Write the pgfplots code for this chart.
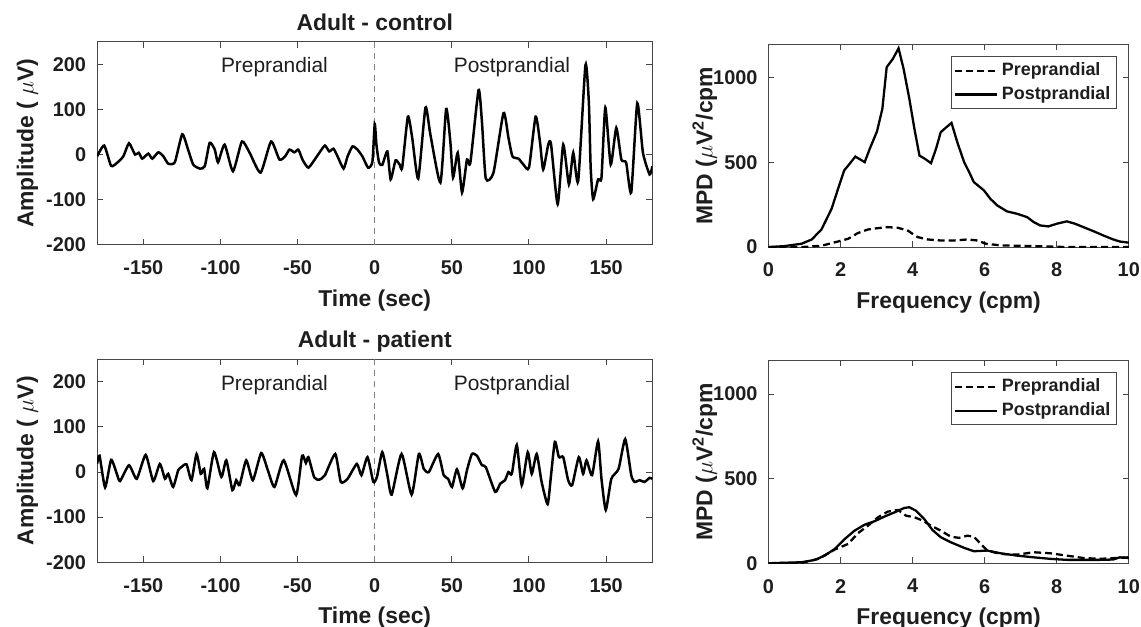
\documentclass[border=0pt]{standalone}
\usepackage{fontspec}
\setmainfont{Liberation Sans}
\usepackage{pgfplots}
\pgfplotsset{compat=1.18}
\definecolor{axgray}{RGB}{70,70,70}
\definecolor{txt}{RGB}{30,30,30}
\begin{document}
\pgfplotsset{
  common/.style={
    scale only axis,
    anchor=south west,
    axis line style={axgray, line width=0.5pt},
    tick style={axgray, line width=0.5pt},
    tick align=inside,
    major tick length=3pt,
    ticklabel style={font=\fontsize{10}{11}\selectfont\bfseries, text=txt},
    xticklabel shift=4.5pt,
    yticklabel shift=2pt,
    /pgf/number format/assume math mode=true,
    /pgf/number format/1000 sep={},
    label style={font=\fontsize{11.5}{12}\selectfont\bfseries, text=txt},
    xlabel style={at={(axis description cs:0.5,0)}, anchor=base, yshift=-30.8pt},
    title style={font=\fontsize{11.5}{12}\selectfont\bfseries, text=txt,
      at={(axis description cs:0.5,1)}, anchor=base, yshift=-0.1pt},
  },
  ts/.style={common,
    width=279pt, height=102pt,
    xmin=-180, xmax=180, ymin=-200, ymax=250,
    xtick={-150,-100,-50,0,50,100,150},
    ytick={-200,-100,0,100,200},
    xlabel={Time (sec)},
    ylabel={Amplitude ( $\mu$V)},
    ylabel style={at={(axis description cs:0,0.5)}, anchor=center, yshift=35pt},
  },
  sp/.style={common,
    width=181pt, height=102pt,
    xmin=0, xmax=10, ymin=0, ymax=1200,
    xtick={0,2,4,6,8,10},
    ytick={0,500,1000},
    xlabel={Frequency (cpm)},
    ylabel={MPD ($\mu$V\textsuperscript{2}/cpm},
    ylabel style={at={(axis description cs:0,0.5)}, anchor=center, yshift=32pt},
    legend style={at={(rel axis cs:0.967,0.94)}, anchor=north east,
      font=\fontsize{9}{10}\selectfont\bfseries, text=txt, draw=axgray, line width=0.5pt,
      inner sep=1pt, row sep=0pt, cells={anchor=west}},
    legend image code/.code={\draw[#1] (0pt,0pt) -- (21pt,0pt);},
  },
  sig/.style={black, line width=1.25pt, smooth, tension=0.35},
  pre/.style={black, line width=1.15pt, dash pattern=on 3.5pt off 2pt},
  post/.style={black, line width=1.15pt},
}
\begin{tikzpicture}
\useasboundingbox (0,0) rectangle (570.5pt,315pt);
% ---------------- Adult - control, time series
\begin{axis}[ts, at={(46pt,192pt)}, title={Adult - control}]
\addplot[gray, line width=0.6pt, dash pattern=on 3pt off 2.5pt] coordinates {(0,-200) (0,250)};
\addplot[sig] coordinates {
(-180,-4) (-175.4,20) (-170.9,-25) (-167,-18) (-163,-4) (-159.3,25) (-155.4,0) (-153,4) (-150.7,-9)
(-146.8,2) (-144.2,-9) (-140.3,5) (-137,-4) (-133.9,-20) (-129.6,-17) (-124.8,45) (-121,11)
(-117.7,-22) (-113.4,-31) (-110.2,-26) (-107,26) (-103.7,11) (-101.6,-17) (-97.3,22) (-91.9,-37)
(-86.1,29) (-81.1,4) (-74,-40) (-67.2,29) (-61.8,-11) (-58.1,-4) (-55.3,11) (-52.1,5) (-49.5,11)
(-46.7,-12) (-43,-29) (-38.1,-7) (-35.9,4) (-32.3,20) (-29.5,7) (-26.7,13) (-24.1,-4) (-20.2,-31)
(-17.6,-4) (-14.4,18) (-11.2,11) (-8,-4) (-4.3,-29) (-1.5,-16) (0,68) (1.1,22) (2.8,-18) (4.9,-23)
(8.2,7) (10.3,-55) (13.5,-13) (16.1,-22) (17.8,-29) (21.5,84) (24.3,37) (28.2,-53) (32.9,104)
(36.1,44) (42.6,-62) (46.3,101) (49,29) (50.8,-51) (53.8,4) (56.6,-84) (59.8,-11) (62,-18)
(67.3,143) (69.5,73) (72,-53) (77,-40) (83.5,92) (86.7,37) (89.3,-4) (93.2,-9) (96.4,-22) (100,-29)
(104.3,84) (107.1,29) (109.2,-33) (112.5,22) (114.3,23) (118.6,-110) (122.2,22) (125.9,-66)
(128.7,4) (131.9,-59) (136.6,198) (138.8,117) (140,-29) (141.6,-99) (144.8,-55) (147,-51)
(149.5,104) (153,-22) (156.6,59) (159.9,-11) (163,-18) (166.3,-84) (170.2,114) (173.9,4)
(178.2,-44) (180,-26)
};
\node[font=\fontsize{10.5}{12}\selectfont, text=txt] at (axis cs:-65,193) {Preprandial};
\node[font=\fontsize{10.5}{12}\selectfont, text=txt] at (axis cs:89,193) {Postprandial};
\end{axis}
% ---------------- Adult - patient, time series
\begin{axis}[ts, at={(46pt,32.5pt)}, title={Adult - patient}]
\addplot[gray, line width=0.6pt, dash pattern=on 3pt off 2.5pt] coordinates {(0,-200) (0,250)};
\addplot[sig] coordinates {
(-180,18) (-178.4,36) (-174.8,-34) (-170.9,27) (-167.2,-4) (-165.1,-20) (-159.3,15) (-154.3,-15)
(-148.5,38) (-143.6,-20) (-139.3,18) (-136,-15) (-133.9,-4) (-130.7,-33) (-127.4,4) (-125.3,11)
(-122,17) (-118.8,-18) (-115.5,40) (-112.8,-4) (-110.6,7) (-108.5,-36) (-104.2,44) (-99.4,-11)
(-96.2,26) (-92.3,-40) (-89.8,-18) (-87.6,-29) (-83.3,26) (-79,-18) (-73.6,42) (-69.3,4) (-65,-33)
(-59,26) (-51,-51) (-47.1,36) (-44.6,20) (-43,33) (-39.2,-12) (-35.9,-17) (-32.3,-7) (-25.6,40)
(-22,-22) (-17.6,-15) (-11.6,18) (-8.6,-7) (-4.7,33) (-0.9,-22) (1.5,-10) (4.9,44) (8.2,-7) (11,-50)
(17.4,40) (23.9,-50) (28.6,40) (31.8,7) (35.1,0) (41.1,40) (44.7,-7) (47.6,-15) (50.1,-33)
(53.3,6) (57,-36) (59.8,4) (63,40) (66.3,36) (69.5,15) (72,11) (78.1,-44) (81.3,-26) (84.5,-18)
(86.7,0) (88.9,-4) (92.1,60) (95.3,-29) (99.2,44) (101.8,-4) (105,40) (108.2,-22) (112.1,-71)
(114.3,-7) (116.8,67) (119.4,33) (122.2,33) (125.4,-18) (128,-29) (132.3,33) (135.1,-4)
(137.3,26) (140.9,-7) (144.8,68) (147,-15) (149.8,-84) (153.4,-15) (158.1,7) (162.4,73)
(166.3,-7) (168.5,-22) (171.7,-18) (174.9,-22) (178.2,-13) (180,-15)
};
\node[font=\fontsize{10.5}{12}\selectfont, text=txt] at (axis cs:-65,193) {Preprandial};
\node[font=\fontsize{10.5}{12}\selectfont, text=txt] at (axis cs:89,193) {Postprandial};
\end{axis}
% ---------------- control spectrum
\begin{axis}[sp, at={(383.35pt,190.85pt)}]
\addplot[pre] coordinates {
(0,0) (0.92,0) (1.47,8) (1.93,33) (2.21,49) (2.48,83) (2.76,104) (3.04,112) (3.31,118) (3.59,114)
(3.86,98) (4.14,59) (4.42,45) (4.78,39) (5.15,39) (5.52,45) (5.8,39) (6.03,20) (6.44,10) (7.36,6)
(8.28,0) (10,0)
};
\addlegendentry{Preprandial}
\addplot[post] coordinates {
(0,0) (0.46,6) (0.92,20) (1.2,45) (1.47,104) (1.75,226) (1.93,344) (2.1,453) (2.25,492) (2.41,535)
(2.67,502) (2.81,581) (3.01,683) (3.16,817) (3.28,1063) (3.45,1112) (3.61,1175) (3.75,1053)
(3.91,876) (4.05,699) (4.19,541) (4.34,522) (4.51,496) (4.65,581) (4.78,679) (4.94,709) (5.08,734)
(5.24,620) (5.43,502) (5.57,443) (5.7,384) (5.98,335) (6.16,285) (6.35,246) (6.62,211) (6.9,197)
(7.18,177) (7.36,148) (7.54,128) (7.77,122) (8.0,138) (8.28,152) (8.51,138) (8.74,118) (9.02,94)
(9.29,69) (9.57,45) (9.75,33) (10,26)
};
\addlegendentry{Postprandial}
\end{axis}
% ---------------- patient spectrum
\begin{axis}[sp, at={(383.35pt,32pt)}]
\addplot[pre] coordinates {
(0,0) (0.92,2) (1.38,26) (1.84,81) (2.21,114) (2.48,177) (2.76,222) (3.04,272) (3.31,305)
(3.59,315) (3.82,281) (4.05,272) (4.28,252) (4.51,222) (4.78,193) (5.06,157) (5.29,150)
(5.52,163) (5.7,157) (5.89,114) (6.07,75) (6.44,55) (6.9,51) (7.36,65) (7.82,59) (8.28,45)
(8.74,31) (9.2,26) (10,35)
};
\addlegendentry{Preprandial}
\addplot[post] coordinates {
(0,0) (0.92,6) (1.29,20) (1.56,45) (1.84,85) (2.12,144) (2.39,193) (2.67,228) (2.94,248)
(3.22,276) (3.5,301) (3.77,327) (3.91,331) (4.09,311) (4.32,262) (4.55,197) (4.78,154) (5.06,124)
(5.43,91) (5.7,71) (6.07,75) (6.44,59) (6.9,45) (7.36,35) (7.82,26) (8.28,20) (8.74,20) (9.2,20)
(9.57,22) (9.75,35) (10,31)
};
\addlegendentry{Postprandial}
\end{axis}
\end{tikzpicture}
\end{document}
